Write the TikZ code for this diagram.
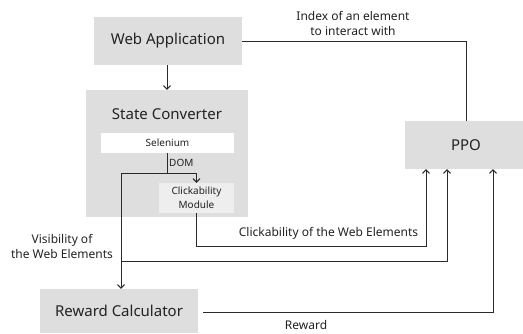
\documentclass[tikz,border=0pt]{standalone}
\usepackage{fontspec}
\setmainfont{Noto Sans}
\usetikzlibrary{arrows.meta,calc}
\definecolor{boxgray}{HTML}{DEDEDE}
\definecolor{lightgray2}{HTML}{EEEEEE}
\definecolor{linec}{HTML}{2A2A2A}
\definecolor{textc}{HTML}{222222}
\tikzset{
  box/.style={fill=boxgray, draw=none, inner sep=0pt, align=center, text=textc, font=\fontsize{15}{18}\selectfont},
  smallbox/.style={draw=none, inner sep=0pt, align=center, text=textc, font=\fontsize{10}{13}\selectfont},
  conn/.style={draw=linec, line width=1pt},
  arr/.style={conn, -{Straight Barb[length=3.5pt,width=7pt,line width=1pt]}},
  lbl/.style={text=textc, align=center, inner sep=0pt, font=\fontsize{12}{15}\selectfont},
}
\begin{document}
\begin{tikzpicture}[x=1pt,y=-1pt]
\useasboundingbox (0,0) rectangle (523,334);
\node[box, minimum width=148pt, minimum height=48pt] (web) at (168,41) {Web Application};
\node[box, minimum width=162pt, minimum height=127pt] (sc) at (167,153.5) {};
\node[lbl, font=\fontsize{15}{18}\selectfont] (sctitle) at (167,114) {State Converter};
\node[smallbox, fill=white, minimum width=133pt, minimum height=20pt] (sel) at (167.5,143) {Selenium};
\node[smallbox, fill=lightgray2, minimum width=75pt, minimum height=30pt, font=\fontsize{10}{14}\selectfont] (click) at (196.5,198) {Clickability\\Module};
\node[box, minimum width=158pt, minimum height=44pt] (rew) at (119,311) {Reward Calculator};
\node[box, minimum width=122pt, minimum height=48pt] (ppo) at (466,145) {PPO};

\coordinate (dom) at (167,174);
\coordinate (vis) at (121,262);

\draw[arr] (web.south -| 167,0) -- (sc.north -| 167,0);
\draw[conn] (web.east |- 0,42) -| (ppo.north);
\node[lbl] (idx) at (353,23) {Index of an element\\to interact with};

\draw[conn] (sel.south -| dom) -- (dom);
\node[lbl, font=\fontsize{10}{12}\selectfont, anchor=west] (domlbl) at (169,163) {DOM};
\draw[arr] (dom) -| (click.north);
\draw[arr] (dom) -| (rew.north -| vis);
\node[lbl] (vislbl) at (62,246) {Visibility of\\the Web Elements};
\draw[arr] (vis) -- (447,262) -- (ppo.south -| 447,0);
\draw[arr] (click.south) -- (196.5,247) -- (426,247) -- (ppo.south -| 426,0);
\node[lbl] (clbl) at (328.5,233) {Clickability of the Web Elements};
\draw[arr] ($(rew.east)+(5,2)$) -- (493,313) -- (ppo.south -| 493,0);
\node[lbl] (rlbl) at (306,325) {Reward};
\end{tikzpicture}
\end{document}
